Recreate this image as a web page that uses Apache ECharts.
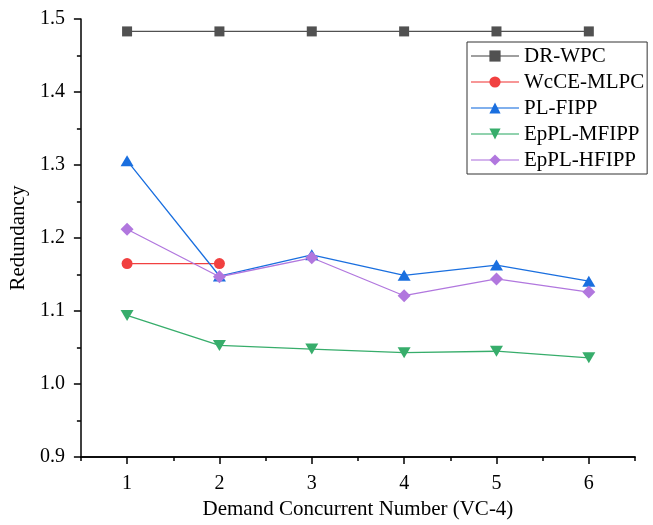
<!DOCTYPE html>
<html>
<head>
<meta charset="utf-8">
<script src="https://cdn.jsdelivr.net/npm/echarts@6/dist/echarts.min.js"></script>
<style>
html,body{margin:0;padding:0;background:#fff;}
#chart{width:653px;height:525px;}
</style>
</head>
<body>
<div id="chart"></div>
<script>
var categories = ['1', '2', '3', '4', '5', '6'];
var yTicks = [0.9, 1.0, 1.1, 1.2, 1.3, 1.4, 1.5];
var drWpc = [1.483, 1.483, 1.483, 1.483, 1.483, 1.483];
var wcceMlpc = [1.165, 1.165, null, null, null, null];
var plFipp = [1.306, 1.148, 1.177, 1.149, 1.163, 1.141];
var epplMfipp = [1.094, 1.053, 1.048, 1.043, 1.045, 1.036];
var epplHfipp = [1.212, 1.147, 1.173, 1.121, 1.144, 1.126];

var FONT = '"Liberation Serif", "Times New Roman", serif';

function mkSeries(name, data, color, symbol, size, rotate) {
  return {
    name: name,
    type: 'line',
    data: data,
    xAxisIndex: 0,
    color: color,
    symbol: symbol,
    symbolSize: size,
    symbolRotate: rotate || 0,
    showAllSymbol: true,
    connectNulls: false,
    lineStyle: { color: color, width: 1.3 },
    itemStyle: { color: color, opacity: 1 },
    emphasis: { disabled: true },
    animation: false
  };
}

var chart = echarts.init(document.getElementById('chart'), null, { renderer: 'canvas' });
chart.setOption({
  backgroundColor: '#ffffff',
  animation: false,
  textStyle: { fontFamily: FONT },
  grid: { left: 80, right: 18, top: 19, bottom: 58, containLabel: false },
  legend: {
    orient: 'vertical',
    left: 467,
    top: 42,
    padding: [3, 3, 3, 3],
    itemGap: 4,
    itemWidth: 48,
    itemHeight: 14,
    borderColor: '#333333',
    borderWidth: 1,
    backgroundColor: '#ffffff',
    textStyle: { fontFamily: FONT, fontSize: 21, color: '#000', lineHeight: 22 },
    lineStyle: { opacity: 0.55 },
    data: ['DR-WPC', 'WcCE-MLPC', 'PL-FIPP', 'EpPL-MFIPP', 'EpPL-HFIPP']
  },
  xAxis: [
    {
      type: 'category',
      data: categories,
      position: 'bottom',
      boundaryGap: true,
      name: 'Demand Concurrent Number (VC-4)',
      nameLocation: 'middle',
      nameGap: 37,
      nameTextStyle: { fontFamily: FONT, fontSize: 21, color: '#000' },
      axisLine: { show: true, lineStyle: { color: '#000', width: 1.5 } },
      axisTick: { show: true, alignWithLabel: true, inside: false, length: 7, lineStyle: { color: '#000', width: 1.5 } },
      axisLabel: { fontFamily: FONT, fontSize: 20, color: '#000', margin: 17 },
      splitLine: { show: false }
    },
    {
      type: 'category',
      data: categories,
      position: 'bottom',
      boundaryGap: true,
      axisLine: { show: true, lineStyle: { color: '#000', width: 1.5 } },
      axisTick: { show: true, inside: false, length: 4, lineStyle: { color: '#000', width: 1.5 } },
      axisLabel: { show: false },
      splitLine: { show: false }
    }
  ],
  yAxis: {
    type: 'value',
    min: yTicks[0],
    max: yTicks[yTicks.length - 1],
    interval: 0.1,
    name: 'Redundancy',
    nameLocation: 'middle',
    nameGap: 41,
    nameTextStyle: { fontFamily: FONT, fontSize: 21, color: '#000' },
    axisLine: { show: true, lineStyle: { color: '#000', width: 1.5 } },
    axisTick: { show: true, inside: false, length: 7, lineStyle: { color: '#000', width: 1.5 } },
    minorTick: { show: true, splitNumber: 2, length: 4, lineStyle: { color: '#000', width: 1.5 } },
    axisLabel: { fontFamily: FONT, fontSize: 20, color: '#000', margin: 16,
      formatter: function (v) { return v.toFixed(1); } },
    splitLine: { show: false },
    minorSplitLine: { show: false }
  },
  series: [
    mkSeries('DR-WPC', drWpc, '#515151', 'rect', 10),
    mkSeries('WcCE-MLPC', wcceMlpc, '#F14040', 'circle', 11),
    mkSeries('PL-FIPP', plFipp, '#1A6FDF', 'triangle', [13, 11]),
    mkSeries('EpPL-MFIPP', epplMfipp, '#37AD6B', 'triangle', [13, 11], 180),
    mkSeries('EpPL-HFIPP', epplHfipp, '#B177DE', 'diamond', [13, 13])
  ]
});
</script>
</body>
</html>
